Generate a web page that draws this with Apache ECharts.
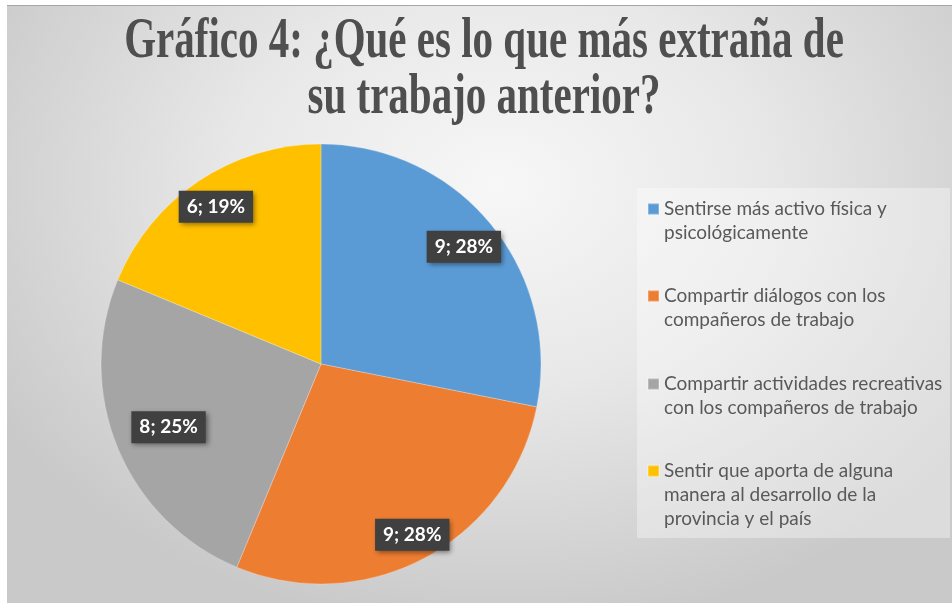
<!DOCTYPE html>
<html>
<head>
<meta charset="utf-8">
<script src="https://cdn.jsdelivr.net/npm/echarts@6/dist/echarts.min.js"></script>
<style>
  html, body { margin: 0; padding: 0; background: #fff; }
  .frame {
    position: absolute; left: 7px; top: 5px; width: 945px; height: 598px;
    border-top: 1px solid #a6a6a6; box-sizing: border-box;
    background: radial-gradient(ellipse 62% 75% at 52% 30%, #f7f7f7 0%, #e8e8e8 45%, #c9c9c9 100%);
  }
  #main { position: absolute; left: 0; top: 0; width: 952px; height: 605px; }
</style>
</head>
<body>
<div class="frame"></div>
<div id="main"></div>
<script>
  // datos del gráfico
  var categories = [
    'Sentirse más activo física y psicológicamente',
    'Compartir diálogos con los compañeros de trabajo',
    'Compartir actividades recreativas con los compañeros de trabajo',
    'Sentir que aporta de alguna manera al desarrollo de la provincia y el país'
  ]
  var values = [9, 9, 8, 6]
  var legendLines = [
    'Sentirse más activo física y\npsicológicamente',
    'Compartir diálogos con los\ncompañeros de trabajo',
    'Compartir actividades recreativas\ncon los compañeros de trabajo',
    'Sentir que aporta de alguna\nmanera al desarrollo de la\nprovincia y el país'
  ]
  var colors = ['#5B9BD5', '#ED7D31', '#A5A5A5', '#FFC000']

  var cx = 321, cy = 364, R = 220
  // distancia de cada etiqueta al centro (fracción del radio)
  var labelRadius = [0.84, 0.88, 0.75, 0.86]
  // centro vertical de la primera línea de cada entrada de la leyenda
  var legendRowY = [209, 296, 384, 471]
  var lineH = 24

  // una leyenda por entrada: el icono queda a la altura de la primera línea
  var legends = categories.map(function (c, i) {
    var n = legendLines[i].split('\n').length
    return {
      orient: 'vertical',
      left: 647,
      top: legendRowY[i] - (2 * n - 1) * lineH / 2,
      padding: 0,
      itemWidth: 11,
      itemHeight: 11,
      icon: 'rect',
      textStyle: {
        fontFamily: 'Lato',
        fontSize: 19,
        lineHeight: lineH,
        color: '#595959'
      },
      formatter: function (name) {
        // líneas vacías arriba para centrar el bloque en la primera línea
        return new Array(n).join('\n') + legendLines[i]
      },
      data: [c]
    }
  })

  var myChart = echarts.init(document.getElementById('main'))
  myChart.setOption({
    animation: false,
    color: colors,
    graphic: [
      {
        type: 'rect',
        shape: { x: 637, y: 188, width: 313, height: 350 },
        style: { fill: 'rgba(255,255,255,0.35)' },
        z: -1
      },
      {
        type: 'text',
        x: 484,
        y: 14,
        scaleY: 1.37,
        style: {
          text: 'Gráfico 4: ¿Qué es lo que más extraña de\nsu trabajo anterior?',
          fontSize: 41,
          fontWeight: 'bold',
          fontFamily: 'Liberation Serif',
          fill: '#4f4f4f',
          align: 'center',
          verticalAlign: 'top',
          lineHeight: 41
        }
      }
    ],
    legend: legends,
    series: [
      {
        type: 'pie',
        center: [cx, cy],
        radius: R,
        startAngle: 90,
        clockwise: true,
        itemStyle: {
          borderColor: 'rgba(255,255,255,0.25)',
          borderWidth: 1
        },
        emphasis: { scale: false },
        label: {
          show: true,
          position: 'inside',
          rotate: 0,
          formatter: function (p) {
            return p.value + '; ' + Math.round(p.percent) + '%'
          },
          color: '#fff',
          fontFamily: 'Lato',
          fontWeight: 'bold',
          fontSize: 19,
          backgroundColor: '#404040',
          padding: [7, 8, 6, 8],
          shadowColor: 'rgba(0,0,0,0.45)',
          shadowBlur: 5,
          shadowOffsetX: 2,
          shadowOffsetY: 2
        },
        labelLine: { show: false },
        labelLayout: function (p) {
          var r = p.labelRect
          var dx = r.x + r.width / 2 - cx
          var dy = r.y + r.height / 2 - cy
          var d = Math.sqrt(dx * dx + dy * dy)
          var f = labelRadius[p.dataIndex] * R / d
          return { x: cx + dx * f, y: cy + dy * f }
        },
        data: categories.map(function (c, i) {
          return { name: c, value: values[i] }
        })
      }
    ]
  })
</script>
</body>
</html>
